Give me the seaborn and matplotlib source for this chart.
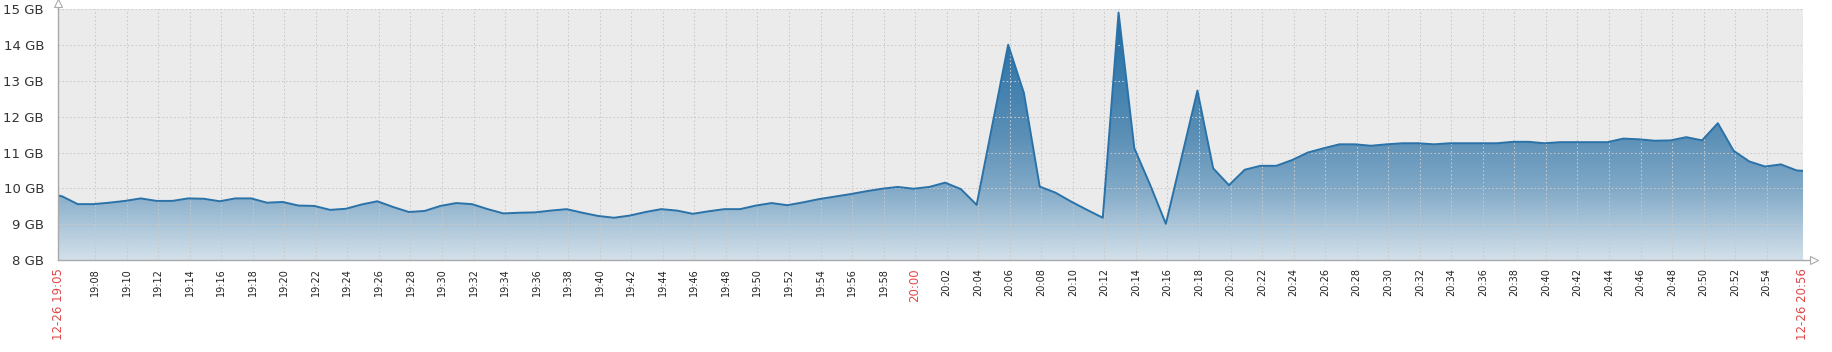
import numpy as np
import pandas as pd
import matplotlib
matplotlib.use("Agg")
import matplotlib.pyplot as plt
import matplotlib.dates as mdates
from matplotlib.colors import LinearSegmentedColormap
from matplotlib.patches import PathPatch
import seaborn as sns

# ---- data (one sample per minute, GB) ----
memory_gb = [
    9.78, 9.56, 9.56, 9.60, 9.65, 9.72, 9.65, 9.65, 9.72, 9.71,   # 19:05-19:14
    9.64, 9.72, 9.72, 9.60, 9.62, 9.52, 9.51, 9.40, 9.43, 9.55,   # 19:15-19:24
    9.64, 9.48, 9.34, 9.37, 9.51, 9.59, 9.56, 9.42, 9.30, 9.32,   # 19:25-19:34
    9.33, 9.38, 9.42, 9.32, 9.23, 9.18, 9.24, 9.34, 9.42, 9.38,   # 19:35-19:44
    9.29, 9.36, 9.42, 9.42, 9.52, 9.59, 9.53, 9.61, 9.70, 9.77,   # 19:45-19:54
    9.84, 9.92, 9.99, 10.04, 9.99, 10.04, 10.16, 9.98, 9.54, 11.78,  # 19:55-20:04
    14.01, 12.66, 10.05, 9.88, 9.63, 9.40, 9.18, 14.91, 11.12, 10.10,  # 20:05-20:14
    9.01, 10.87, 12.73, 10.56, 10.09, 10.52, 10.63, 10.63, 10.79, 11.00,  # 20:15-20:24
    11.12, 11.23, 11.23, 11.19, 11.23, 11.26, 11.26, 11.23, 11.26, 11.26,  # 20:25-20:34
    11.26, 11.26, 11.30, 11.30, 11.26, 11.29, 11.29, 11.29, 11.29, 11.39,  # 20:35-20:44
    11.37, 11.33, 11.34, 11.43, 11.34, 11.82, 11.05, 10.75, 10.61, 10.67,  # 20:45-20:54
    10.50,                                                          # 20:55
]
edge_start_gb = 9.80   # value drawn at the left edge of the graph
edge_end_gb = 10.49    # value drawn at the right edge of the graph
sample_start = "2023-12-26 19:05:54"
view_start = "2023-12-26 19:05:39"
view_end = "2023-12-26 20:56:18"
tick_first = "2023-12-26 19:08"
tick_last = "2023-12-26 20:54"
start_label = "12-26 19:05"
end_label = "12-26 20:56"
red_tick_labels = ["20:00"]
y_ticks = [8, 9, 10, 11, 12, 13, 14, 15]
y_labels = [f"{v} GB" for v in y_ticks]

times = ([pd.Timestamp(view_start)]
         + list(pd.date_range(sample_start, periods=len(memory_gb), freq="min"))
         + [pd.Timestamp(view_end)])
values = [edge_start_gb] + memory_gb + [edge_end_gb]
df = pd.DataFrame({"time": times, "gb": values})

sns.set_style("white")
plt.rcParams["font.family"] = ["DejaVu Sans"]

W, H = 1833, 352
fig = plt.figure(figsize=(W / 100, H / 100), dpi=100)
L, R, T, B = 58, 1803, 9.3, 260
ax = fig.add_axes([L / W, 1 - B / H, (R - L) / W, (B - T) / H])
ax.set_facecolor("#ebebeb")

x0 = mdates.date2num(pd.Timestamp(view_start))
x1 = mdates.date2num(pd.Timestamp(view_end))

# gradient area fill clipped to the data polygon
poly = ax.fill_between(df["time"], df["gb"], y_ticks[0], color="none", lw=0)
cmap = LinearSegmentedColormap.from_list(
    "zbx", [(0.0, "#d3e0ea"), (2 / 7, "#80a9c7"), (3.5 / 7, "#5b8fb6"), (1.0, "#1b6aa3")]
)
grad = np.linspace(y_ticks[0], y_ticks[-1], 300).reshape(-1, 1)
im = ax.imshow(grad, extent=[x0, x1, y_ticks[0], y_ticks[-1]], origin="lower",
               aspect="auto", cmap=cmap, vmin=y_ticks[0], vmax=y_ticks[-1], zorder=1)
clip = PathPatch(poly.get_paths()[0], transform=ax.transData, facecolor="none", edgecolor="none")
ax.add_patch(clip)
im.set_clip_path(clip)

sns.lineplot(data=df, x="time", y="gb", ax=ax, color="#2a72a8", lw=1.4, zorder=3)

ax.set_xlim(x0, x1)
ax.set_ylim(y_ticks[0], y_ticks[-1])

# ticks
tick_times = list(pd.date_range(tick_first, tick_last, freq="2min"))
xt = [x0] + [mdates.date2num(t) for t in tick_times] + [x1]
xl = [start_label] + [t.strftime("%H:%M") for t in tick_times] + [end_label]
ax.set_xticks(xt)
ax.set_xticklabels(xl, rotation=90)
ax.set_yticks(y_ticks)
ax.set_yticklabels(y_labels)
ax.set_xlabel("")
ax.set_ylabel("")

ax.tick_params(axis="x", length=3, width=0.8, color="#aaaaaa", pad=3, labelsize=7, labelcolor="#222222")
ax.tick_params(axis="y", length=4, width=0.8, color="#aaaaaa", pad=6, labelsize=9.5, labelcolor="#333333")
for lab in ax.get_xticklabels():
    txt = lab.get_text()
    if txt in red_tick_labels or txt in (start_label, end_label):
        lab.set_color("#e04848")
        lab.set_fontsize(8.5)

ax.grid(True, color="#c9c9c9", ls=(0, (1.5, 2.2)), lw=0.75)
ax.set_axisbelow(False)

for s in ("top", "right"):
    ax.spines[s].set_visible(False)
for s in ("left", "bottom"):
    ax.spines[s].set_color("#aaaaaa")
    ax.spines[s].set_linewidth(1.0)
    ax.spines[s].set_zorder(4)

# axis arrows
ax.plot([0, 0], [1, 1.025], transform=ax.transAxes, color="#aaaaaa", lw=1, clip_on=False)
ax.plot(0, 1.025, marker="^", ms=6, mfc="white", mec="#aaaaaa", mew=0.8,
        transform=ax.transAxes, clip_on=False)
ax.plot([1, 1.006], [0, 0], transform=ax.transAxes, color="#aaaaaa", lw=1, clip_on=False)
ax.plot(1.0065, 0, marker=">", ms=6, mfc="white", mec="#aaaaaa", mew=0.8,
        transform=ax.transAxes, clip_on=False)

fig.savefig("out.png", dpi=100, facecolor="white")
